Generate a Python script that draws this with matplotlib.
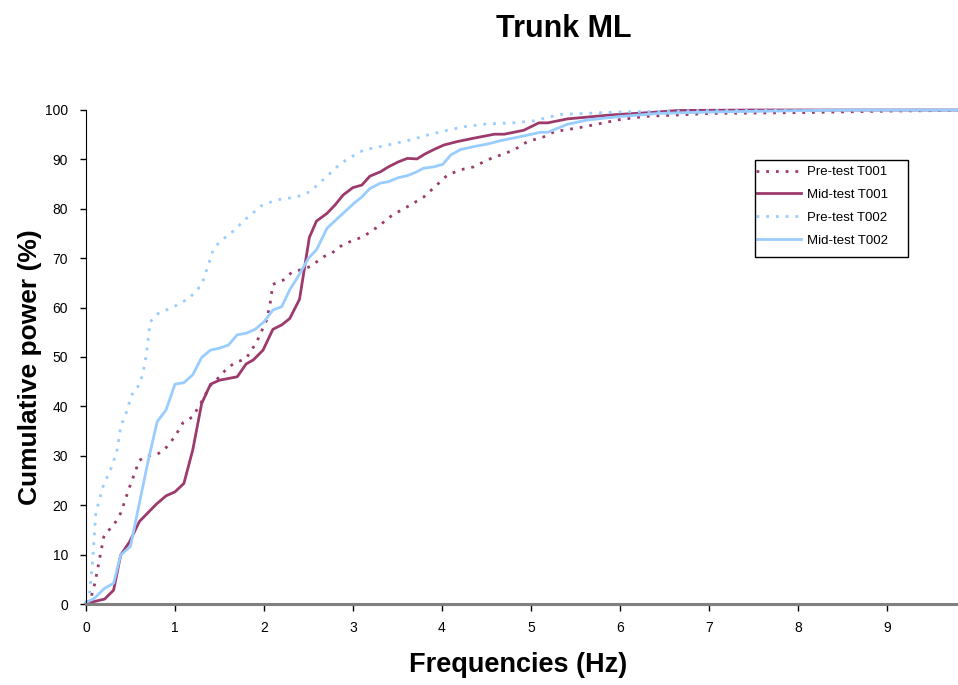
import matplotlib
matplotlib.use("Agg")
import matplotlib.pyplot as plt
from matplotlib.patches import Rectangle

plt.rcParams["font.family"] = ["Liberation Sans", "DejaVu Sans"]

# Frequencies (Hz) and cumulative power (%)
pre_t001_f = [0.0, 0.06, 0.10, 0.15, 0.20, 0.23, 0.30, 0.39, 0.49, 0.60, 0.70, 0.79, 0.88,
              1.00, 1.09, 1.20, 1.30, 1.40, 1.50, 1.60, 1.70, 1.80, 1.92, 2.03, 2.07, 2.10,
              2.22, 2.31, 2.40, 2.52, 2.67, 2.76, 2.89, 3.12, 3.29, 3.44, 3.61, 3.79, 3.93,
              4.06, 4.21, 4.36, 4.51, 4.66, 4.81, 4.96, 5.17, 5.26, 5.60, 5.98, 6.28, 7.03,
              8.15, 9.09, 9.80]
pre_t001_p = [0.1, 1.5, 4.2, 8.9, 13.6, 14.6, 15.6, 18.4, 23.7, 29.1, 30.0, 30.2, 31.2,
              33.9, 36.7, 37.9, 41.0, 44.3, 46.0, 48.0, 49.0, 49.7, 53.1, 57.5, 60.9, 64.7,
              65.6, 67.1, 67.6, 68.3, 70.3, 71.0, 72.8, 74.4, 76.5, 78.7, 80.4, 82.3, 84.6,
              86.8, 87.9, 88.5, 89.9, 90.9, 91.9, 93.6, 94.7, 95.6, 96.6, 98.0, 98.7, 99.3,
              99.5, 99.8, 99.9]

mid_t001_f = [0.0, 0.21, 0.31, 0.39, 0.49, 0.60, 0.79, 0.90, 1.00, 1.10, 1.20, 1.30, 1.40,
              1.50, 1.70, 1.80, 1.88, 1.99, 2.10, 2.20, 2.29, 2.40, 2.51, 2.59, 2.71, 2.80,
              2.89, 3.00, 3.10, 3.19, 3.31, 3.40, 3.51, 3.61, 3.72, 3.81, 3.91, 4.02, 4.17,
              4.36, 4.59, 4.70, 4.92, 5.09, 5.19, 5.41, 5.90, 6.35, 6.65, 7.5, 9.80]
mid_t001_p = [0.1, 1.0, 2.8, 9.9, 12.6, 16.7, 20.2, 21.9, 22.7, 24.4, 31.2, 40.6, 44.5,
              45.3, 46.0, 48.6, 49.4, 51.4, 55.6, 56.5, 57.8, 61.7, 74.2, 77.5, 79.1, 80.8,
              82.8, 84.3, 84.8, 86.6, 87.5, 88.5, 89.5, 90.2, 90.1, 91.1, 92.0, 92.9, 93.6,
              94.3, 95.1, 95.1, 95.9, 97.4, 97.4, 98.2, 99.0, 99.5, 99.9, 100.0, 100.0]

pre_t002_f = [0.0, 0.04, 0.07, 0.09, 0.11, 0.15, 0.19, 0.24, 0.29, 0.35, 0.39, 0.45, 0.50,
              0.54, 0.60, 0.64, 0.68, 0.72, 0.81, 0.98, 1.16, 1.30, 1.43, 1.50, 1.65, 1.80,
              1.97, 2.14, 2.37, 2.52, 2.71, 2.82, 2.93, 3.12, 3.31, 3.49, 3.68, 3.83, 4.06,
              4.25, 4.51, 4.81, 5.03, 5.33, 6.0, 7.0, 9.80]
pre_t002_p = [0.3, 2.2, 7.6, 13.0, 18.4, 21.1, 23.7, 25.8, 27.8, 31.2, 35.9, 38.6, 41.6,
              43.3, 44.3, 46.7, 50.7, 57.1, 58.8, 60.1, 61.9, 64.6, 71.7, 73.3, 75.4, 78.0,
              80.6, 81.8, 82.4, 83.5, 86.6, 88.5, 90.0, 91.9, 92.6, 93.3, 94.1, 94.9, 95.9,
              96.6, 97.2, 97.4, 97.8, 99.1, 99.6, 99.9, 100.0]

mid_t002_f = [0.0, 0.09, 0.21, 0.31, 0.39, 0.50, 0.60, 0.70, 0.80, 0.90, 1.00, 1.10, 1.20,
              1.30, 1.40, 1.50, 1.60, 1.70, 1.80, 1.90, 2.00, 2.10, 2.20, 2.29, 2.40, 2.50,
              2.59, 2.71, 2.80, 2.89, 3.01, 3.10, 3.19, 3.31, 3.40, 3.51, 3.61, 3.72, 3.79,
              3.91, 4.01, 4.10, 4.21, 4.36, 4.51, 4.66, 4.88, 5.11, 5.19, 5.41, 5.64, 6.01,
              6.43, 7.03, 8.5, 9.80]
mid_t002_p = [0.3, 1.1, 3.2, 4.2, 9.9, 11.7, 20.4, 29.1, 36.9, 39.3, 44.5, 44.8, 46.4,
              49.9, 51.4, 51.8, 52.4, 54.5, 54.8, 55.6, 57.1, 59.5, 60.2, 63.6, 66.8, 70.0,
              71.7, 76.1, 77.6, 79.1, 81.1, 82.4, 84.1, 85.2, 85.5, 86.3, 86.7, 87.5, 88.2,
              88.5, 89.0, 90.9, 92.0, 92.6, 93.1, 93.8, 94.6, 95.5, 95.5, 97.1, 98.0, 98.7,
              99.3, 99.6, 100.0, 100.0]

maroon = "#9c3a6c"
light_blue = "#99ccff"

W, H = 958, 685
fig = plt.figure(figsize=(W / 100, H / 100), dpi=100)
ax = fig.add_axes([86 / W, 1 - 604 / H, 872 / W, 494 / H])

dot = (0, (1, 2.5))
ax.plot(pre_t001_f, pre_t001_p, color=maroon, lw=2, ls=dot, label="Pre-test T001", clip_on=False)
ax.plot(mid_t001_f, mid_t001_p, color=maroon, lw=2, label="Mid-test T001", clip_on=False)
ax.plot(pre_t002_f, pre_t002_p, color=light_blue, lw=2, ls=dot, label="Pre-test T002", clip_on=False)
ax.plot(mid_t002_f, mid_t002_p, color=light_blue, lw=2, label="Mid-test T002", clip_on=False)

ax.set_xlim(0, 9.8)
ax.set_ylim(0, 100)
ax.set_xticks(range(10))
ax.set_yticks(range(0, 101, 10))
ax.tick_params(axis="both", labelsize=10, direction="out", width=1, colors="black")
ax.tick_params(axis="y", length=4, pad=9)
ax.tick_params(axis="x", length=5, pad=7)

ax.spines["top"].set_visible(False)
ax.spines["right"].set_visible(False)
ax.spines["left"].set_color("black")
ax.spines["bottom"].set_color("#808080")
ax.spines["bottom"].set_linewidth(2.2)

fig.text(518 / W, 1 - 665 / H, "Frequencies (Hz)", fontsize=19.5, fontweight="bold",
         ha="center", va="center")
fig.text(30 / W, 1 - 367 / H, "Cumulative power (%)", fontsize=19, fontweight="bold",
         ha="center", va="center", rotation=90)
fig.text(564 / W, 1 - 29 / H, "Trunk ML", fontsize=22, fontweight="bold",
         ha="center", va="center")

# Excel-style legend: handles start at the left border of the box
leg = ax.legend(loc="upper left", bbox_to_anchor=(756 / W, 1 - 166 / H),
                bbox_transform=fig.transFigure, fontsize=9.5, frameon=False,
                borderpad=0, handlelength=3.4, handletextpad=0.45, labelspacing=0.8,
                borderaxespad=0)
fig.patches.append(Rectangle((755 / W, 1 - 257 / H), 153 / W, 97 / H,
                             transform=fig.transFigure, fill=False,
                             edgecolor="black", lw=1))

fig.savefig("out.png", dpi=100)
